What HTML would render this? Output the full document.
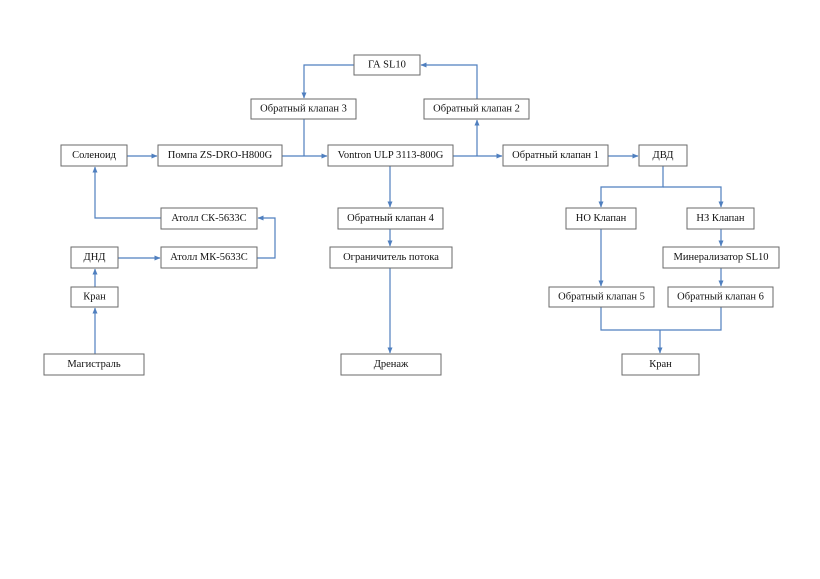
<!DOCTYPE html>
<html><head><meta charset="utf-8"><style>
html,body{margin:0;padding:0;background:#fff;}
svg{display:block;}
text{font-family:"Liberation Serif","Noto Serif CJK SC",serif;font-size:10.5px;fill:#111;text-anchor:middle;dominant-baseline:central;}
rect{fill:#fff;stroke:#6a6a6a;stroke-width:1;}
.l{fill:none;stroke:#4f7fbf;stroke-width:1.2;}
</style></head><body>
<svg width="820" height="579" viewBox="0 0 820 579" xmlns="http://www.w3.org/2000/svg">
<defs><marker id="a" markerWidth="6" markerHeight="6" refX="5.5" refY="3" orient="auto" markerUnits="userSpaceOnUse"><path d="M0,0.5 L6,3 L0,5.5 Z" fill="#4f7fbf"/></marker></defs>
<g class="lines">
<!-- ГА -> Обр3 -->
<path class="l" d="M354,65 H304 V98" marker-end="url(#a)"/>
<!-- Обр3 down to junction -->
<path class="l" d="M304,119 V156"/>
<!-- Pump -> Vontron -->
<path class="l" d="M282,156 H327" marker-end="url(#a)"/>
<!-- Соленоид -> Pump -->
<path class="l" d="M127,156 H157" marker-end="url(#a)"/>
<!-- Vontron -> Обр1 -->
<path class="l" d="M453,156 H502" marker-end="url(#a)"/>
<!-- junction up to Обр2 -->
<path class="l" d="M477,156 V120" marker-end="url(#a)"/>
<!-- Обр2 -> ГА -->
<path class="l" d="M477,99 V65 H421" marker-end="url(#a)"/>
<!-- Обр1 -> ДВД -->
<path class="l" d="M608,156 H638" marker-end="url(#a)"/>
<!-- Vontron -> Обр4 -->
<path class="l" d="M390,166 V207" marker-end="url(#a)"/>
<path class="l" d="M390,229 V246" marker-end="url(#a)"/>
<path class="l" d="M390,268 V353" marker-end="url(#a)"/>
<!-- Атолл СК -> Соленоид -->
<path class="l" d="M161,218 H95 V167" marker-end="url(#a)"/>
<!-- МК -> СК -->
<path class="l" d="M257,258 H275 V218 H258" marker-end="url(#a)"/>
<!-- ДНД -> МК -->
<path class="l" d="M118,258 H160" marker-end="url(#a)"/>
<!-- Кран -> ДНД -->
<path class="l" d="M95,287 V269" marker-end="url(#a)"/>
<!-- Магистраль -> Кран -->
<path class="l" d="M95,354 V308" marker-end="url(#a)"/>
<!-- ДВД split -->
<path class="l" d="M663,166 V187 H601 V207" marker-end="url(#a)"/>
<path class="l" d="M663,187 H721 V207" marker-end="url(#a)"/>
<path class="l" d="M601,229 V286" marker-end="url(#a)"/>
<path class="l" d="M721,229 V246" marker-end="url(#a)"/>
<path class="l" d="M721,268 V286" marker-end="url(#a)"/>
<path class="l" d="M601,307 V330 H721 V307"/>
<path class="l" d="M660,330 V353" marker-end="url(#a)"/>
</g>
<g>
<rect x="354" y="55" width="66" height="20"/><text x="387" y="65">ГА SL10</text>
<rect x="251" y="99" width="105" height="20"/><text x="303.5" y="109">Обратный клапан 3</text>
<rect x="424" y="99" width="105" height="20"/><text x="476.5" y="109">Обратный клапан 2</text>
<rect x="61" y="145" width="66" height="21"/><text x="94" y="155.5">Соленоид</text>
<rect x="158" y="145" width="124" height="21"/><text x="220" y="155.5">Помпа ZS-DRO-H800G</text>
<rect x="328" y="145" width="125" height="21"/><text x="390.5" y="155.5">Vontron ULP 3113-800G</text>
<rect x="503" y="145" width="105" height="21"/><text x="555.5" y="155.5">Обратный клапан 1</text>
<rect x="639" y="145" width="48" height="21"/><text x="663" y="155.5">ДВД</text>
<rect x="161" y="208" width="96" height="21"/><text x="209" y="218.5">Атолл СК-5633С</text>
<rect x="338" y="208" width="105" height="21"/><text x="390.5" y="218.5">Обратный клапан 4</text>
<rect x="566" y="208" width="70" height="21"/><text x="601" y="218.5">НО Клапан</text>
<rect x="687" y="208" width="67" height="21"/><text x="720.5" y="218.5">НЗ Клапан</text>
<rect x="71" y="247" width="47" height="21"/><text x="94.5" y="257.5">ДНД</text>
<rect x="161" y="247" width="96" height="21"/><text x="209" y="257.5">Атолл МК-5633С</text>
<rect x="330" y="247" width="122" height="21"/><text x="391" y="257.5">Ограничитель потока</text>
<rect x="663" y="247" width="116" height="21"/><text x="721" y="257.5">Минерализатор SL10</text>
<rect x="71" y="287" width="47" height="20"/><text x="94.5" y="297">Кран</text>
<rect x="549" y="287" width="105" height="20"/><text x="601.5" y="297">Обратный клапан 5</text>
<rect x="668" y="287" width="105" height="20"/><text x="720.5" y="297">Обратный клапан 6</text>
<rect x="44" y="354" width="100" height="21"/><text x="94" y="364.5">Магистраль</text>
<rect x="341" y="354" width="100" height="21"/><text x="391" y="364.5">Дренаж</text>
<rect x="622" y="354" width="77" height="21"/><text x="660.5" y="364.5">Кран</text>
</g>
</svg>
</body></html>
